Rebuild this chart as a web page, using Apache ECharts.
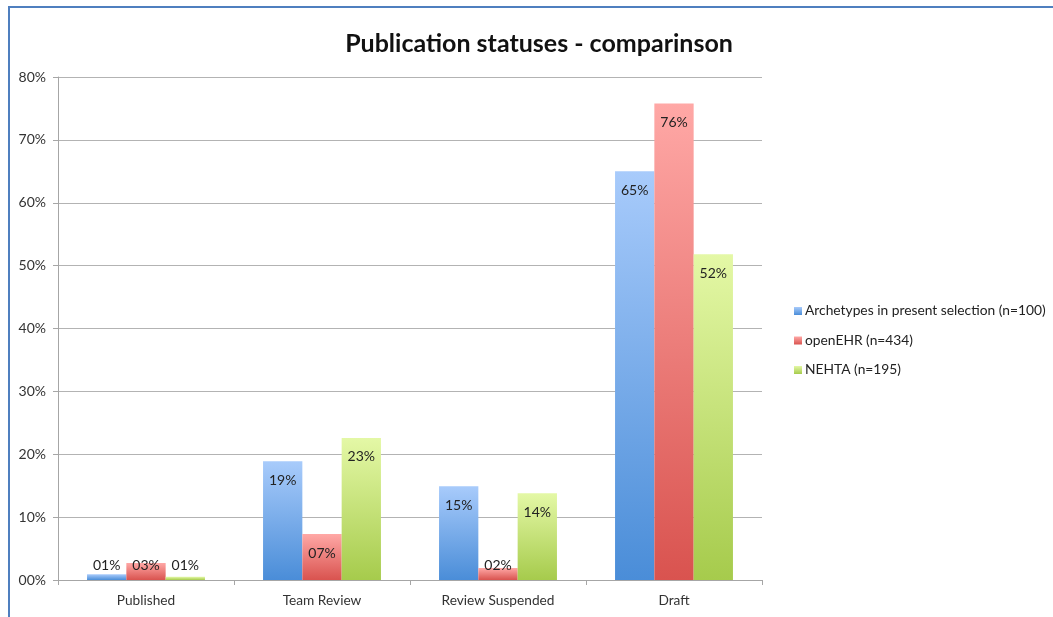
<!DOCTYPE html>
<html>
<head>
<meta charset="utf-8">
<script src="https://cdn.jsdelivr.net/npm/echarts@6/dist/echarts.min.js"></script>
<style>
  html, body { margin: 0; padding: 0; background: #fff; }
  #frame {
    position: absolute; left: 8px; top: 6px; right: 0; bottom: 0;
    border-top: 2px solid #4f7fbf; border-left: 2px solid #4f7fbf;
  }
  #chart { position: absolute; left: 0; top: 0; width: 1053px; height: 617px; }
</style>
</head>
<body>
<div id="frame"></div>
<div id="chart"></div>
<script>
// categories & series values (percent)
const categories = ['Published', 'Team Review', 'Review Suspended', 'Draft'];
const seriesNames = ['Archetypes in present selection (n=100)', 'openEHR (n=434)', 'NEHTA (n=195)'];
const archetypes = [0.9, 18.9, 14.9, 65.0];
const openEHR = [2.7, 7.3, 1.9, 75.8];
const nehta = [0.5, 22.6, 13.8, 51.8];
const yTicks = [0, 10, 20, 30, 40, 50, 60, 70, 80];

const pct = v => String(Math.round(v)).padStart(2, '0') + '%';

function grad(top, bottom) {
    return new echarts.graphic.LinearGradient(0, 0, 0, 1, [
        { offset: 0, color: top },
        { offset: 1, color: bottom }
    ]);
}

function makeSeries(name, values, top, bottom) {
    return {
        name: name,
        type: 'bar',
        barGap: 0,
        barCategoryGap: '33%',
        itemStyle: { color: grad(top, bottom) },
        // short bars: label sits just above the axis, like Excel does
        data: values.map(v => ({
            value: v,
            label: { position: v < 5 ? 'insideBottom' : 'insideTop', distance: v < 5 ? 8 : 12 }
        })),
        label: {
            show: true,
            color: '#222',
            fontSize: 14,
            fontFamily: 'Lato',
            formatter: p => pct(p.value)
        }
    };
}

const chart = echarts.init(document.getElementById('chart'));
chart.setOption({
    animation: false,
    color: ['#5b97dd', '#e06662', '#b5d66a'],
    title: {
        text: 'Publication statuses - comparinson',
        left: 534,
        textAlign: 'center',
        top: 26,
        textStyle: { fontFamily: 'Lato', fontWeight: 'bold', fontSize: 25, color: '#111' }
    },
    legend: {
        orient: 'vertical',
        left: 789,
        top: 298,
        itemWidth: 8,
        itemHeight: 8,
        itemGap: 13.5,
        icon: 'rect',
        data: seriesNames,
        textStyle: { fontFamily: 'Lato', fontSize: 13.8, color: '#222', lineHeight: 16, padding: [0, 0, 0, -2] }
    },
    grid: { left: 58, right: 291, top: 77, bottom: 37 },
    xAxis: {
        type: 'category',
        data: categories,
        axisLine: { lineStyle: { color: '#a6a6a6' } },
        axisTick: { show: true, length: 5, lineStyle: { color: '#a6a6a6' } },
        axisLabel: { color: '#333', fontFamily: 'Lato', fontSize: 13.7, margin: 14 }
    },
    yAxis: {
        type: 'value',
        min: yTicks[0],
        max: yTicks[yTicks.length - 1],
        interval: 10,
        axisLine: { show: true, lineStyle: { color: '#a6a6a6' } },
        axisTick: { show: true, length: 5, lineStyle: { color: '#a6a6a6' } },
        splitLine: { lineStyle: { color: '#b3b3b3' } },
        axisLabel: { color: '#333', fontFamily: 'Lato', fontSize: 14, margin: 12, formatter: v => pct(v) }
    },
    series: [
        makeSeries(seriesNames[0], archetypes, '#a8cbfb', '#4a8dd8'),
        makeSeries(seriesNames[1], openEHR, '#ffa8a6', '#d9534f'),
        makeSeries(seriesNames[2], nehta, '#e4f8a6', '#a6cb4c')
    ]
});
</script>
</body>
</html>
